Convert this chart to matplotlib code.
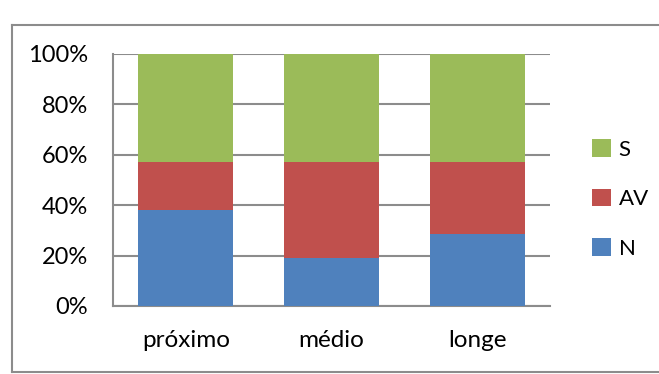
import matplotlib
matplotlib.use("Agg")
import matplotlib.pyplot as plt
from matplotlib.lines import Line2D
import numpy as np

categories = ["próximo", "médio", "longe"]
series_names = ["N", "AV", "S"]
n_vals = [38.1, 19.0, 28.6]
av_vals = [19.0, 38.1, 28.6]
s_vals = [42.9, 42.9, 42.8]
y_ticks = [0, 20, 40, 60, 80, 100]
y_tick_labels = ["0%", "20%", "40%", "60%", "80%", "100%"]

colors = {"N": "#4F81BD", "AV": "#C0504D", "S": "#9BBB59"}
grid_gray = "#8C8C8C"

plt.rcParams["font.family"] = ["Lato", "DejaVu Sans"]

fig = plt.figure(figsize=(6.59, 3.74), dpi=100)
ax = fig.add_axes([113 / 659, 1 - 306 / 374, (550 - 113) / 659, (306 - 54) / 374])

x = np.arange(len(categories))
width = 0.65
bottom = np.zeros(len(categories))
handles = {}
for name, vals in zip(series_names, [n_vals, av_vals, s_vals]):
    h = ax.bar(x, vals, width, bottom=bottom, color=colors[name], zorder=3,
               linewidth=0)
    handles[name] = h
    bottom += np.array(vals)

ax.set_xlim(-0.5, 2.5)
ax.set_ylim(0, 100)
ax.set_yticks(y_ticks)
ax.set_yticklabels(y_tick_labels, fontsize=17)
ax.set_xticks(x)
ax.set_xticklabels(categories, fontsize=17.5)
ax.tick_params(axis="both", length=0, colors="black")
ax.tick_params(axis="y", pad=18)
ax.tick_params(axis="x", pad=17)
ax.yaxis.grid(True, color=grid_gray, linewidth=1.5, zorder=0)
for side in ["top", "right"]:
    ax.spines[side].set_visible(False)
for side in ["left", "bottom"]:
    ax.spines[side].set_color(grid_gray)
    ax.spines[side].set_linewidth(1.5)

leg = fig.legend([handles[n] for n in ["S", "AV", "N"]], ["S", "AV", "N"],
                 loc="center left", bbox_to_anchor=(581 / 659, 1 - 199 / 374),
                 frameon=False, fontsize=16, handlelength=0.85, handleheight=0.85,
                 handletextpad=0.35, labelspacing=1.3, borderpad=0)

# outer frame of the chart area
fig.add_artist(Line2D([11.5 / 659, 1.0], [1 - 24.5 / 374] * 2, color=grid_gray, lw=1.5))
fig.add_artist(Line2D([11.5 / 659, 1.0], [1 - 372 / 374] * 2, color=grid_gray, lw=1.5))
fig.add_artist(Line2D([11.5 / 659] * 2, [1 - 24.5 / 374, 1 - 372 / 374], color=grid_gray, lw=1.5))

fig.savefig("out.png", dpi=100)
